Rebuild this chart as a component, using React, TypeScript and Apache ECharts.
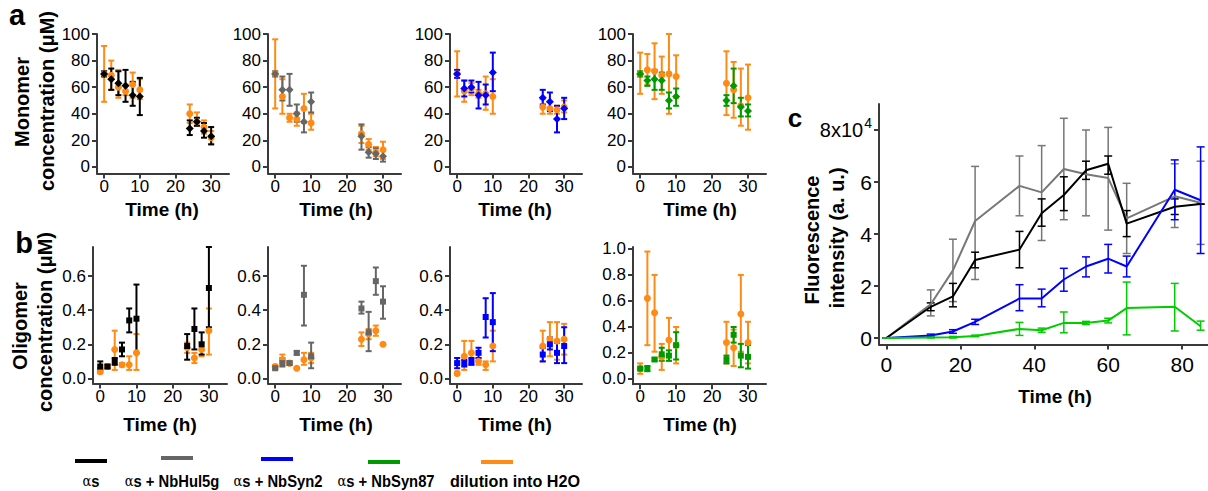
import React, { useEffect, useRef } from 'react';
import * as echarts from 'echarts';

// ---------- DATA ----------
const T_AB = [0, 2, 4, 6, 8, 10, 24, 26, 28, 30];
const T_C = [0, 12, 18, 24, 36, 42, 48, 54, 60, 65, 78, 85];
const AB_X_TICKS = [0, 10, 20, 30];
const MONO_Y_TICKS = [0, 20, 40, 60, 80, 100];
const OLIGO_Y_TICKS = [0, 0.2, 0.4, 0.6];
const OLIGO4_Y_TICKS = [0, 0.2, 0.4, 0.6, 0.8, 1.0];
const C_X_TICKS = [0, 20, 40, 60, 80];
const C_Y_TICKS = [0, 2, 4, 6, 8];

// Panel a (monomer, µM)
const monoAs = [70, 66, 63, 61, 54, 53, 29, 34, 27, 23];
const monoAsLo = [68, 58, 54, 49, 46, 39, 24, 31, 22, 17];
const monoAsHi = [72, 74, 72, 73, 64, 67, 35, 37, 33, 30];
const monoAsDil = [70, 69, 60, 57, 62, 58, 40, 34, 30, 22];
const monoAsDilLo = [49, 58, 52, 54, 52, 51, 33, 31, 25, 17];
const monoAsDilHi = [91, 80, 73, 62, 71, 66, 47, 41, 35, 27];

const monoHul = [70, 58, 58, 40, 34, 49, 23, 11, 10, 8];
const monoHulLo = [68, 50, 46, 34, 26, 41, 13, 7, 6, 4];
const monoHulHi = [72, 68, 70, 47, 44, 56, 32, 15, 14, 13];
const monoHulDil = [70, 53, 37, 36, 44, 33, 25, 17, 11, 13];
const monoHulDilLo = [44, 40, 34, 31, 33, 28, 18, 13, 8, 6];
const monoHulDilHi = [96, 66, 40, 41, 55, 40, 31, 21, 15, 19];

const monoSyn2 = [70, 59, 60, 54, 54, 71, 52, 49, 36, 44];
const monoSyn2Lo = [67, 53, 56, 44, 47, 57, 47, 42, 26, 36];
const monoSyn2Hi = [73, 65, 65, 64, 62, 86, 58, 56, 46, 52];
const monoSyn2Dil = [70, 57, 59, 55, 55, 53, 45, 44, 43, 45];
const monoSyn2DilLo = [53, 49, 54, 52, 43, 40, 40, 40, 40, 41];
const monoSyn2DilHi = [87, 65, 63, 58, 68, 66, 51, 49, 46, 50];

const monoSyn87 = [70, 65, 66, 65, 50, 53, 50, 61, 45, 42];
const monoSyn87Lo = [68, 61, 58, 58, 44, 46, 46, 48, 38, 38];
const monoSyn87Hi = [72, 68, 73, 71, 56, 59, 54, 74, 52, 47];
const monoSyn87Dil = [70, 73, 72, 69, 70, 68, 63, 58, 46, 52];
const monoSyn87DilLo = [55, 62, 51, 55, 40, 52, 39, 37, 31, 28];
const monoSyn87DilHi = [86, 85, 93, 83, 100, 84, 87, 79, 74, 77];

// Panel b (oligomer, µM)
const oligoAs = [0.07, 0.07, 0.1, 0.17, 0.34, 0.35, 0.19, 0.29, 0.2, 0.53];
const oligoAsLo = [0.05, 0.06, 0.08, 0.13, 0.27, 0.15, 0.11, 0.17, 0.14, 0.3];
const oligoAsHi = [0.1, 0.08, 0.12, 0.21, 0.41, 0.55, 0.26, 0.41, 0.27, 0.77];
const oligoAsDil = [0.04, 0.07, 0.17, 0.08, 0.08, 0.15, 0.18, 0.12, 0.17, 0.28];
const oligoAsDilLo = [0.03, 0.06, 0.05, 0.07, 0.05, 0.05, 0.15, 0.09, 0.13, 0.14];
const oligoAsDilHi = [0.06, 0.08, 0.28, 0.09, 0.13, 0.26, 0.21, 0.15, 0.21, 0.41];

const oligoHul = [0.06, 0.09, 0.09, 0.15, 0.49, 0.13, 0.41, 0.27, 0.57, 0.45];
const oligoHulLo = [0.055, 0.07, 0.08, 0.14, 0.31, 0.06, 0.38, 0.16, 0.49, 0.35];
const oligoHulHi = [0.07, 0.12, 0.1, 0.16, 0.66, 0.21, 0.45, 0.39, 0.65, 0.54];
const oligoHulDil = [0.07, 0.11, 0.09, 0.06, 0.11, 0.12, 0.23, 0.26, 0.28, 0.2];
const oligoHulDilLo = [0.06, 0.09, 0.08, 0.055, 0.08, 0.09, 0.19, 0.23, 0.25, 0.195];
const oligoHulDilHi = [0.08, 0.14, 0.1, 0.065, 0.15, 0.15, 0.27, 0.29, 0.31, 0.205];

const oligoSyn2 = [0.09, 0.09, 0.1, 0.15, 0.36, 0.33, 0.14, 0.2, 0.15, 0.19];
const oligoSyn2Lo = [0.06, 0.07, 0.08, 0.12, 0.24, 0.16, 0.1, 0.17, 0.09, 0.09];
const oligoSyn2Hi = [0.12, 0.11, 0.12, 0.18, 0.47, 0.5, 0.18, 0.24, 0.21, 0.3];
const oligoSyn2Dil = [0.03, 0.13, 0.15, 0.1, 0.08, 0.19, 0.19, 0.23, 0.22, 0.23];
const oligoSyn2DilLo = [0.02, 0.05, 0.08, 0.08, 0.05, 0.1, 0.1, 0.13, 0.11, 0.14];
const oligoSyn2DilHi = [0.04, 0.22, 0.22, 0.12, 0.1, 0.28, 0.28, 0.33, 0.33, 0.32];

const oligoSyn87 = [0.08, 0.08, 0.15, 0.19, 0.18, 0.26, 0.15, 0.34, 0.18, 0.17];
const oligoSyn87Lo = [0.07, 0.06, 0.14, 0.14, 0.14, 0.15, 0.12, 0.28, 0.09, 0.08];
const oligoSyn87Hi = [0.09, 0.1, 0.16, 0.24, 0.22, 0.36, 0.18, 0.4, 0.27, 0.26];
const oligoSyn87Dil = [0.08, 0.62, 0.51, 0.17, 0.3, 0.26, 0.28, 0.24, 0.5, 0.28];
const oligoSyn87DilLo = [0.04, 0.26, 0.21, 0.07, 0.14, 0.12, 0.12, 0.1, 0.21, 0.12];
const oligoSyn87DilHi = [0.12, 0.98, 0.8, 0.27, 0.47, 0.4, 0.44, 0.38, 0.8, 0.44];

// Panel c (fluorescence, x10^4 a.u.)
const flAs = [0, 1.2, 1.6, 3.0, 3.4, 4.8, 5.5, 6.45, 6.7, 4.4, 5.05, 5.15];
const flAsLo = [0, 1.05, 1.2, 2.7, 2.7, 4.3, 4.9, 6.1, 6.3, 3.9, 4.75, 5.15];
const flAsHi = [0, 1.35, 2.1, 3.3, 4.1, 5.35, 6.2, 6.8, 7.0, 4.9, 5.35, 5.15];
const flHul = [0, 1.3, 2.6, 4.5, 5.85, 5.6, 6.5, 6.3, 6.15, 4.6, 5.45, 5.2];
const flHulLo = [0, 0.85, 1.4, 2.25, 4.7, 3.75, 4.55, 4.7, 4.15, 3.25, 4.25, 3.6];
const flHulHi = [0, 1.85, 3.8, 6.6, 7.0, 7.4, 8.45, 8.0, 8.1, 5.95, 6.7, 6.8];
const flSyn2 = [0, 0.1, 0.25, 0.62, 1.52, 1.52, 2.25, 2.75, 3.05, 2.75, 5.7, 5.3];
const flSyn2Lo = [0, 0.05, 0.18, 0.52, 1.05, 1.2, 1.8, 2.35, 2.5, 2.35, 4.55, 3.25];
const flSyn2Hi = [0, 0.15, 0.32, 0.72, 2.05, 1.88, 2.68, 3.12, 3.6, 3.15, 6.85, 7.35];
const flSyn87 = [0, 0.02, 0.03, 0.08, 0.35, 0.3, 0.58, 0.58, 0.67, 1.15, 1.2, 0.45];
const flSyn87Lo = [0, 0, 0, 0.05, 0.1, 0.22, 0.2, 0.52, 0.58, 0.12, 0.27, 0.3];
const flSyn87Hi = [0, 0.04, 0.06, 0.11, 0.6, 0.38, 1.0, 0.64, 0.76, 2.15, 2.1, 0.65];

const LEGEND_LABELS = ['s', 's + NbHul5g', 's + NbSyn2', 's + NbSyn87', 'dilution into H2O'];

// ---------- STYLE ----------
const FONT = '"Liberation Sans", Arial, Helvetica, sans-serif';
const AX = '#3a3a3a';
const C_BLACK = '#000000';
const C_GRAY = '#666666';
const C_BLUE = '#0000ff';
const C_GREEN = '#009a00';
const C_ORANGE = '#ff8a14';
const C_GRAY_C = '#777777';
const C_GREEN_C = '#00cc00';

function errSeries(gi: number, t: number[], lo: number[], hi: number[], color: string, lw: number, cap: number) {
  return {
    type: 'custom',
    xAxisIndex: gi,
    yAxisIndex: gi,
    clip: false,
    silent: true,
    data: t.map((x, i) => [x, lo[i], hi[i]]),
    renderItem: (params: any, api: any) => {
      const x = api.value(0);
      const pLo = api.coord([x, api.value(1)]);
      const pHi = api.coord([x, api.value(2)]);
      const st = { stroke: color, lineWidth: lw };
      return {
        type: 'group',
        children: [
          { type: 'line', shape: { x1: pLo[0], y1: pLo[1], x2: pHi[0], y2: pHi[1] }, style: st },
          { type: 'line', shape: { x1: pLo[0] - cap, y1: pLo[1], x2: pLo[0] + cap, y2: pLo[1] }, style: st },
          { type: 'line', shape: { x1: pHi[0] - cap, y1: pHi[1], x2: pHi[0] + cap, y2: pHi[1] }, style: st },
        ],
      };
    },
  };
}

function pts(gi: number, t: number[], v: number[], color: string, symbol: string, size: number) {
  return {
    type: 'scatter',
    xAxisIndex: gi,
    yAxisIndex: gi,
    silent: true,
    symbol,
    symbolSize: size,
    itemStyle: { color, opacity: 1 },
    data: t.map((x, i) => [x, v[i]]),
  };
}

function xAx(gi: number, min: number, max: number, ticks: number[], fs: number, margin: number) {
  return {
    type: 'value', gridIndex: gi, min, max,
    axisLine: { show: true, onZero: false, lineStyle: { color: AX, width: 2 } },
    axisTick: { show: true, customValues: ticks, length: 5, lineStyle: { color: AX, width: 2 } },
    axisLabel: { show: true, customValues: ticks, fontSize: fs, color: '#000', fontFamily: FONT, margin },
    splitLine: { show: false },
  };
}

function yAx(gi: number, min: number, max: number, ticks: number[], fs: number, margin: number, extra: any = {}) {
  return {
    type: 'value', gridIndex: gi, min, max,
    axisLine: { show: true, onZero: false, lineStyle: { color: AX, width: 2 } },
    axisTick: { show: true, customValues: ticks, length: 5, lineStyle: { color: AX, width: 2 } },
    axisLabel: { show: true, customValues: ticks, fontSize: fs, color: '#000', fontFamily: FONT, margin, ...extra },
    splitLine: { show: false },
  };
}

const text = (x: number, y: number, s: string, fs: number, extra: any = {}) => ({
  type: 'text', x, y, silent: true, ...extra,
  style: { text: s, fontSize: fs, fontWeight: 'bold', fontFamily: FONT, fill: '#000', align: 'center', verticalAlign: 'middle', ...(extra.style || {}) },
});

export default function App() {
  const ref = useRef<HTMLDivElement>(null);
  useEffect(() => {
    if (!ref.current) return;
    const chart = echarts.init(ref.current, undefined, { renderer: 'svg' });

    const grids = [
      { left: 97, top: 34, width: 132, height: 139.6 },
      { left: 268, top: 34, width: 133, height: 139.6 },
      { left: 450, top: 34, width: 132, height: 139.6 },
      { left: 633, top: 34, width: 133, height: 139.6 },
      { left: 93, top: 247, width: 134, height: 136.6 },
      { left: 268, top: 247, width: 133, height: 136.6 },
      { left: 450, top: 247, width: 132, height: 136.6 },
      { left: 633, top: 247, width: 133, height: 137.2 },
      { left: 879, top: 104, width: 329, height: 240.5 },
    ].map((g) => ({ ...g, outerBoundsMode: 'none', containLabel: false }));

    const xAxes: any[] = [];
    const yAxes: any[] = [];
    for (let i = 0; i < 8; i++) {
      xAxes.push(xAx(i, -2, 35, AB_X_TICKS, 17, 4));
    }
    for (let i = 0; i < 4; i++) yAxes.push(yAx(i, -5, 100, MONO_Y_TICKS, 17, 7));
    for (let i = 4; i < 7; i++) yAxes.push(yAx(i, -0.03, 0.77, OLIGO_Y_TICKS, 17, 7, { formatter: (v: number) => v.toFixed(1) }));
    yAxes.push(yAx(7, -0.04, 1.015, OLIGO4_Y_TICKS, 17, 7, { formatter: (v: number) => v.toFixed(1) }));
    xAxes.push(xAx(8, -2, 87, C_X_TICKS, 21, 9));
    yAxes.push(yAx(8, -0.25, 9, C_Y_TICKS, 21, 7, {
      formatter: (v: number) => (v === 8 ? '{m|8x10}{s|4}' : String(v)),
      rich: {
        m: { fontSize: 20, fontFamily: FONT, color: '#000' },
        s: { fontSize: 14, fontFamily: FONT, color: '#000', padding: [0, 0, 14, 1] },
      },
    }));

    const series: any[] = [];
    const addPanel = (gi: number, mean: number[], lo: number[], hi: number[], color: string, dil: number[], dlo: number[], dhi: number[], sym: string) => {
      series.push(errSeries(gi, T_AB, dlo, dhi, C_ORANGE, 2, 3));
      series.push(pts(gi, T_AB, dil, C_ORANGE, 'circle', 7));
      series.push(errSeries(gi, T_AB, lo, hi, color, 2, 3));
      series.push(pts(gi, T_AB, mean, color, sym, sym === 'diamond' ? 8 : 6));
    };
    addPanel(0, monoAs, monoAsLo, monoAsHi, C_BLACK, monoAsDil, monoAsDilLo, monoAsDilHi, 'diamond');
    addPanel(1, monoHul, monoHulLo, monoHulHi, C_GRAY, monoHulDil, monoHulDilLo, monoHulDilHi, 'diamond');
    addPanel(2, monoSyn2, monoSyn2Lo, monoSyn2Hi, C_BLUE, monoSyn2Dil, monoSyn2DilLo, monoSyn2DilHi, 'diamond');
    addPanel(3, monoSyn87, monoSyn87Lo, monoSyn87Hi, C_GREEN, monoSyn87Dil, monoSyn87DilLo, monoSyn87DilHi, 'diamond');
    addPanel(4, oligoAs, oligoAsLo, oligoAsHi, C_BLACK, oligoAsDil, oligoAsDilLo, oligoAsDilHi, 'rect');
    addPanel(5, oligoHul, oligoHulLo, oligoHulHi, C_GRAY, oligoHulDil, oligoHulDilLo, oligoHulDilHi, 'rect');
    addPanel(6, oligoSyn2, oligoSyn2Lo, oligoSyn2Hi, C_BLUE, oligoSyn2Dil, oligoSyn2DilLo, oligoSyn2DilHi, 'rect');
    addPanel(7, oligoSyn87, oligoSyn87Lo, oligoSyn87Hi, C_GREEN, oligoSyn87Dil, oligoSyn87DilLo, oligoSyn87DilHi, 'rect');

    const addLine = (mean: number[], lo: number[], hi: number[], color: string) => {
      series.push(errSeries(8, T_C, lo, hi, color, 1.5, 4));
      series.push({
        type: 'line', xAxisIndex: 8, yAxisIndex: 8, silent: true, showSymbol: false, symbol: 'none',
        lineStyle: { color, width: 2 }, data: T_C.map((x, i) => [x, mean[i]]),
      });
    };
    addLine(flHul, flHulLo, flHulHi, C_GRAY_C);
    addLine(flAs, flAsLo, flAsHi, C_BLACK);
    addLine(flSyn2, flSyn2Lo, flSyn2Hi, C_BLUE);
    addLine(flSyn87, flSyn87Lo, flSyn87Hi, C_GREEN_C);

    const legendColors = [C_BLACK, C_GRAY, C_BLUE, C_GREEN, C_ORANGE];
    const legLineX = [75, 161, 261, 368, 481];
    const legLineY = [461, 458, 459, 462, 462];
    const legTextX = [91, 172, 278, 386, 515];
    const graphics: any[] = [
      text(17, 15, 'a', 29),
      text(24, 243, 'b', 29),
      text(795, 118, 'c', 26),
      text(22, 102, 'Monomer', 20, { rotation: Math.PI / 2 }),
      text(47, 101, 'concentration (μM)', 20, { rotation: Math.PI / 2 }),
      text(20, 326, 'Oligomer', 20, { rotation: Math.PI / 2 }),
      text(45, 322, 'concentration (μM)', 20, { rotation: Math.PI / 2 }),
      text(812, 240, 'Fluorescence', 20, { rotation: Math.PI / 2 }),
      text(837, 238, 'intensity (a. u.)', 20, { rotation: Math.PI / 2 }),
      text(162, 209, 'Time (h)', 19),
      text(336, 209, 'Time (h)', 19),
      text(515, 209, 'Time (h)', 19),
      text(700, 209, 'Time (h)', 19),
      text(160, 424, 'Time (h)', 19),
      text(336, 424, 'Time (h)', 19),
      text(515, 424, 'Time (h)', 19),
      text(700, 424, 'Time (h)', 19),
      text(1055, 396, 'Time (h)', 19),
    ];
    LEGEND_LABELS.forEach((lab, i) => {
      graphics.push({
        type: 'line', silent: true,
        shape: { x1: legLineX[i], y1: legLineY[i], x2: legLineX[i] + 32, y2: legLineY[i] },
        style: { stroke: legendColors[i], lineWidth: 4 },
      });
      const isAlpha = i < 4;
      graphics.push({
        type: 'text', silent: true, x: legTextX[i], y: 481,
        scaleX: isAlpha ? 0.87 : 0.95,
        style: {
          text: isAlpha ? `{g|α}{b|${lab}}` : `{b|${lab}}`,
          align: 'center', verticalAlign: 'middle',
          rich: {
            g: { fontFamily: '"DejaVu Serif", serif', fontSize: 15, fontWeight: 'normal', fill: '#000' },
            b: { fontFamily: FONT, fontSize: 17, fontWeight: 'bold', fill: '#000' },
          },
        },
      });
    });

    chart.setOption({
      animation: false,
      backgroundColor: '#ffffff',
      grid: grids,
      xAxis: xAxes,
      yAxis: yAxes,
      series,
      graphic: graphics,
    });
    return () => chart.dispose();
  }, []);

  return <div ref={ref} style={{ position: 'fixed', left: 0, top: 0, width: 1208, height: 491 }} />;
}
